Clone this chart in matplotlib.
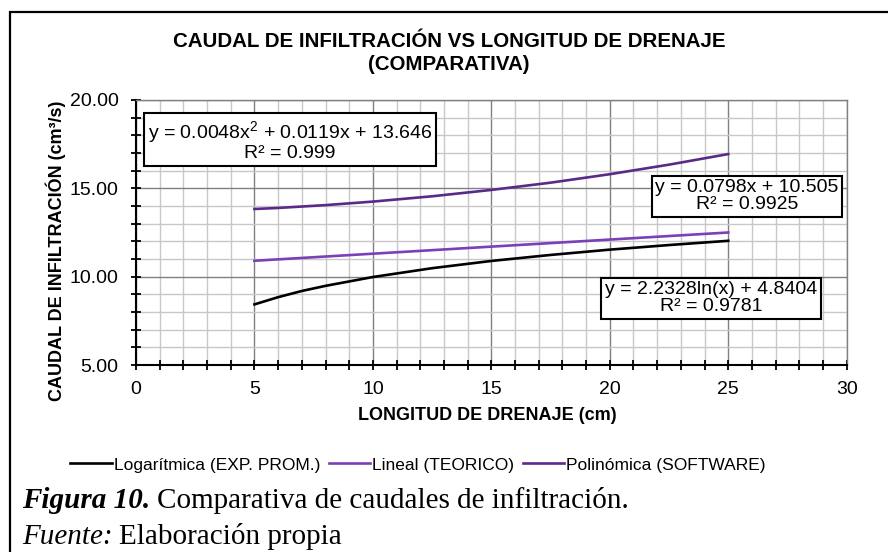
import matplotlib.pyplot as plt
from matplotlib.patches import Rectangle
from matplotlib.ticker import MultipleLocator, FormatStrFormatter

x = [5, 6, 7, 8, 10, 12.5, 15, 17.5, 20, 22.5, 25]
log_y = [8.43, 8.84, 9.19, 9.48, 9.98, 10.48, 10.89, 11.23, 11.53, 11.79, 12.03]
lin_y = [10.90, 10.98, 11.06, 11.14, 11.30, 11.50, 11.70, 11.90, 12.10, 12.30, 12.50]
pol_y = [13.83, 13.89, 13.97, 14.05, 14.25, 14.55, 14.91, 15.32, 15.80, 16.34, 16.94]

labels = ["Logarítmica (EXP. PROM.)", "Lineal (TEORICO)", "Polinómica (SOFTWARE)"]
colors = ["black", "#7B3FB8", "#5A2A8A"]
eqs = ["y = 2.2328ln(x) + 4.8404\nR² = 0.9781",
       "y = 0.0798x + 10.505\nR² = 0.9925",
       "y = 0.0048x$^2$ + 0.0119x + 13.646\nR² = 0.999"]

plt.rcParams['font.family'] = ['Liberation Sans', 'DejaVu Sans']
plt.rcParams['mathtext.fontset'] = 'custom'
plt.rcParams['mathtext.rm'] = 'Liberation Sans'
plt.rcParams['mathtext.it'] = 'Liberation Sans'

fig = plt.figure(figsize=(8.88, 5.52), dpi=100)
ax = fig.add_axes([136/888, 1 - 365/552, 710.7/888, 265/552])

for ys, lab, c in zip([log_y, lin_y, pol_y], labels, colors):
    ax.plot(x, ys, color=c, lw=1.9, label=lab)

ax.set_xlim(0, 30)
ax.set_ylim(5, 20)
ax.xaxis.set_major_locator(MultipleLocator(5))
ax.xaxis.set_minor_locator(MultipleLocator(1))
ax.yaxis.set_major_locator(MultipleLocator(5))
ax.yaxis.set_minor_locator(MultipleLocator(1))
ax.yaxis.set_major_formatter(FormatStrFormatter('%.2f'))
ax.grid(which='minor', color='#c8c8c8', lw=1.0)
ax.grid(which='major', color='#808080', lw=1.0)
ax.set_axisbelow(True)
for s in ['top', 'right']:
    ax.spines[s].set_color('#808080')
    ax.spines[s].set_linewidth(1.0)
for s in ['left', 'bottom']:
    ax.spines[s].set_linewidth(1.5)
ax.tick_params(which='both', direction='inout', length=7, width=1.3, labelsize=14, color='black')
ax.tick_params(axis='y', which='major', pad=9)
ax.tick_params(axis='x', which='major', pad=8)
ax.tick_params(top=False, right=False)

fig.text(487/888, 1 - 415/552, "LONGITUD DE DRENAJE (cm)", fontsize=13, fontweight='bold',
         ha='center', va='center')
fig.text(56/888, 1 - 251/552, "CAUDAL DE INFILTRACIÓN (cm³/s)", fontsize=13, fontweight='bold',
         ha='center', va='center', rotation=90)

fig.text(449/888, 1 - 53/552, "CAUDAL DE INFILTRACIÓN VS LONGITUD DE DRENAJE\n(COMPARATIVA)",
         ha='center', va='center', fontsize=14.8, fontweight='bold', linespacing=1.25)

box = dict(boxstyle='square,pad=0.18', fc='white', ec='black', lw=1.5)
ax.text(711/888, 1 - 298/552, eqs[0], transform=fig.transFigure, ha='center', va='center',
        fontsize=14, multialignment='center', bbox=box, linespacing=1.0)
ax.text(747/888, 1 - 196/552, eqs[1], transform=fig.transFigure, ha='center', va='center',
        fontsize=14, multialignment='center', bbox=box, linespacing=1.0)
ax.text(290/888, 1 - 141/552, eqs[2], transform=fig.transFigure, ha='center', va='center',
        fontsize=14, multialignment='center', bbox=box, linespacing=1.0)

fig.legend(loc='center', bbox_to_anchor=(418/888, 1 - 465/552), ncol=3, frameon=False,
           fontsize=12.5, handlelength=2.4, handletextpad=0.1, columnspacing=0.5)

cap1 = fig.text(22/888, 1 - 500/552, "Figura 10.", fontsize=21, fontweight='bold', fontstyle='italic',
                family='Liberation Serif', va='center')
cap2 = fig.text(22/888, 1 - 537/552, "Fuente:", fontsize=21, fontstyle='italic',
                family='Liberation Serif', va='center')
fig.canvas.draw()
r = fig.canvas.get_renderer()
e1 = cap1.get_window_extent(r)
e2 = cap2.get_window_extent(r)
fig.text((e1.x1 + 7) / 888, 1 - 500/552, "Comparativa de caudales de infiltración.", fontsize=21,
         family='Liberation Serif', va='center')
fig.text((e2.x1 + 6) / 888, 1 - 537/552, "Elaboración propia", fontsize=21,
         family='Liberation Serif', va='center')

fig.patches.append(Rectangle((10/888, -0.05), 1.0, 1 - 12/552 + 0.05, transform=fig.transFigure,
                             fill=False, ec='black', lw=1.6))

fig.savefig("out.png", dpi=100)
